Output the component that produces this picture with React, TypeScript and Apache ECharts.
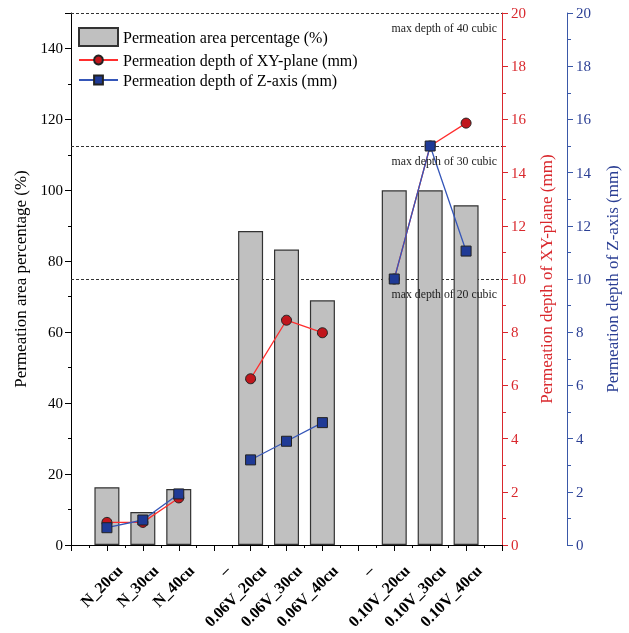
import React, { useEffect, useRef } from "react";
import * as echarts from "echarts";

const categories = ["", "N_20cu", "N_30cu", "N_40cu", "–", "0.06V_20cu", "0.06V_30cu", "0.06V_40cu", "–", "0.10V_20cu", "0.10V_30cu", "0.10V_40cu", ""];
const areaPct: (number | null)[] = [null, 16.3, 9.3, 15.8, null, 88.5, 83.3, 69, null, 100, 100, 95.8, null];
const depthXY: (number | null)[] = [null, 0.85, 0.85, 1.77, null, 6.25, 8.45, 7.98, null, 10, 15, 15.86, null];
const depthZ: (number | null)[] = [null, 0.65, 0.94, 1.92, null, 3.2, 3.9, 4.6, null, 10, 15, 11.05, null];
const maxDepthLines = [
  { value: 20, label: "max depth of 40 cubic" },
  { value: 15, label: "max depth of 30 cubic" },
  { value: 10, label: "max depth of 20 cubic" },
];

const FONT = "Liberation Serif";
const RED = "#d9282d";
const BLUE = "#3a58a8";

export default function App() {
  const ref = useRef<HTMLDivElement>(null);
  useEffect(() => {
    if (!ref.current) return;
    const chart = echarts.init(ref.current, undefined, { renderer: "svg" });
    const toPairs = (arr: (number | null)[]) =>
      arr.map((v, i) => [i, v === null ? "-" : v]).filter((_, i) => i > 0 && i < arr.length - 1);
    const barData = areaPct
      .map((v, i) => [i, v])
      .filter((p) => p[1] !== null);

    chart.setOption({
      animation: false,
      textStyle: { fontFamily: FONT },
      grid: { left: 71, right: 126, top: 13, bottom: 88, containLabel: false },
      legend: [
        {
          left: 73,
          top: 22,
          orient: "vertical",
          itemWidth: 39,
          itemHeight: 18,
          textStyle: { fontFamily: FONT, fontSize: 16, color: "#000" },
          data: [{ name: "Permeation area percentage (%)", icon: "rect" }],
        },
        {
          left: 73,
          top: 47,
          orient: "vertical",
          itemWidth: 39,
          itemHeight: 11,
          itemGap: 4,
          textStyle: { fontFamily: FONT, fontSize: 16, color: "#000" },
          data: [
            { name: "Permeation depth of XY-plane (mm)" },
            { name: "Permeation depth of Z-axis (mm)" },
          ],
        },
      ],
      xAxis: {
        type: "value",
        min: 0,
        max: 12,
        interval: 1,
        splitLine: { show: false },
        axisLine: { lineStyle: { color: "#000", width: 1 } },
        axisTick: { show: true, length: 6, lineStyle: { color: "#000" } },
        minorTick: { show: true, splitNumber: 2, length: 3, lineStyle: { color: "#000" } },
        axisLabel: {
          rotate: 45,
          margin: 10,
          verticalAlign: "top",
          padding: [10, 0, 0, 0],
          fontFamily: FONT,
          fontSize: 16,
          fontWeight: "bold",
          color: "#000",
          formatter: (v: number) => categories[Math.round(v)] ?? "",
        },
      },
      yAxis: [
        {
          type: "value",
          position: "left",
          min: 0,
          max: 150,
          interval: 20,
          name: "Permeation area percentage (%)",
          nameLocation: "middle",
          nameGap: 42,
          nameTextStyle: { fontFamily: FONT, fontSize: 17, color: "#000" },
          splitLine: { show: false },
          axisLine: { show: true, lineStyle: { color: "#000" } },
          axisTick: { show: true, length: 6, lineStyle: { color: "#000" } },
          minorTick: { show: true, splitNumber: 2, length: 3, lineStyle: { color: "#000" } },
          axisLabel: { fontFamily: FONT, fontSize: 15, color: "#000", margin: 8, showMaxLabel: false },
        },
        {
          type: "value",
          position: "right",
          min: 0,
          max: 20,
          interval: 2,
          name: "Permeation depth of XY-plane (mm)",
          nameLocation: "middle",
          nameGap: 36,
          nameTextStyle: { fontFamily: FONT, fontSize: 17, color: RED },
          splitLine: { show: false },
          axisLine: { show: true, lineStyle: { color: RED } },
          axisTick: { show: true, length: 6, lineStyle: { color: RED } },
          minorTick: { show: true, splitNumber: 2, length: 4, lineStyle: { color: RED } },
          axisLabel: { fontFamily: FONT, fontSize: 15, color: RED, margin: 9 },
        },
        {
          type: "value",
          position: "right",
          offset: 65,
          min: 0,
          max: 20,
          interval: 2,
          name: "Permeation depth of Z-axis (mm)",
          nameLocation: "middle",
          nameGap: 37,
          nameTextStyle: { fontFamily: FONT, fontSize: 17, color: "#2b3f94" },
          splitLine: { show: false },
          axisLine: { show: true, lineStyle: { color: BLUE } },
          axisTick: { show: true, length: 6, lineStyle: { color: BLUE } },
          minorTick: { show: true, splitNumber: 2, length: 4, lineStyle: { color: BLUE } },
          axisLabel: { fontFamily: FONT, fontSize: 15, color: "#2b3f94", margin: 9 },
        },
      ],
      series: [
        {
          type: "line",
          yAxisIndex: 1,
          data: [],
          z: 1,
          silent: true,
          markLine: {
            silent: true,
            symbol: "none",
            z: 1,
            lineStyle: { type: [3, 2], color: "#333", width: 1 },
            label: { show: false },
            data: maxDepthLines.map((m) => ({ yAxis: m.value })),
          },
        },
        {
          name: "Permeation area percentage (%)",
          type: "bar",
          yAxisIndex: 0,
          barWidth: 25,
          z: 2,
          itemStyle: { color: "#c0c0c0", borderColor: "#333", borderWidth: 1.2 },
          data: barData,
        },
        {
          name: "Permeation depth of XY-plane (mm)",
          type: "line",
          yAxisIndex: 1,
          z: 3,
          connectNulls: false,
          symbol: "circle",
          symbolSize: 10,
          lineStyle: { color: "#ff2e2e", width: 1.3 },
          itemStyle: { color: "#c0161c", borderColor: "#222", borderWidth: 1 },
          data: toPairs(depthXY),
        },
        {
          name: "Permeation depth of Z-axis (mm)",
          type: "line",
          yAxisIndex: 2,
          z: 4,
          connectNulls: false,
          symbol: "rect",
          symbolSize: 10,
          lineStyle: { color: "#3556b8", width: 1.3 },
          itemStyle: { color: "#1f3a96", borderColor: "#222", borderWidth: 1 },
          data: toPairs(depthZ),
        },
        {
          type: "line",
          yAxisIndex: 1,
          data: [],
          z: 5,
          silent: true,
          markLine: {
            silent: true,
            symbol: "none",
            z: 5,
            lineStyle: { color: "transparent", width: 0 },
            label: {
              show: true,
              position: "insideEndBottom",
              distance: [5, 9],
              fontFamily: FONT,
              fontSize: 11.8,
              color: "#222",
            },
            data: maxDepthLines.map((m) => ({
              yAxis: m.value,
              label: { formatter: m.label },
            })),
          },
        },
      ],
    });
    return () => chart.dispose();
  }, []);
  return <div ref={ref} style={{ position: "fixed", left: 0, top: 0, width: 629, height: 633 }} />;
}
